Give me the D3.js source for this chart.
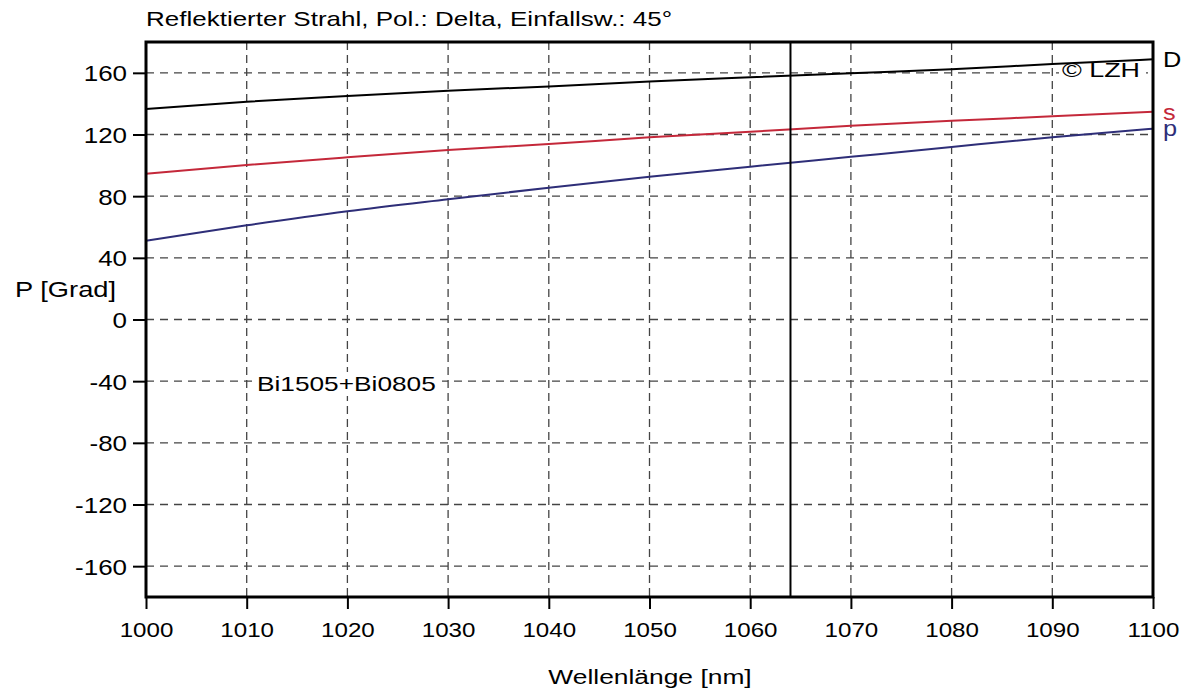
<!DOCTYPE html>
<html>
<head>
<meta charset="utf-8">
<script src="https://cdn.jsdelivr.net/npm/d3@7/dist/d3.min.js"></script>
<style>
  html, body { margin: 0; padding: 0; background: #fff; }
  svg { display: block; font-family: "Liberation Sans", Arial, sans-serif; }
</style>
</head>
<body>
<script>
// wavelength grid [nm] and phase curves [Grad]
var wavelengths = [1000, 1010, 1020, 1030, 1040, 1050, 1060, 1070, 1080, 1090, 1100];
var phaseD = [136.5, 141.3, 145.0, 148.4, 151.2, 154.3, 157.1, 159.8, 162.3, 165.7, 168.8];
var phaseS = [94.6, 100.2, 105.2, 109.9, 113.8, 118.2, 121.8, 125.6, 128.9, 131.8, 134.8];
var phaseP = [51.1, 61.1, 70.2, 78.0, 85.5, 92.6, 99.1, 105.5, 111.9, 118.2, 123.8];

var xTicks = [1000, 1010, 1020, 1030, 1040, 1050, 1060, 1070, 1080, 1090, 1100];
var yTicks = [-160, -120, -80, -40, 0, 40, 80, 120, 160];
var laserLine = 1064;

var W = 1187, H = 688;
var plotL = 146, plotR = 1153, plotT = 42, plotB = 597;

var x = d3.scaleLinear().domain([1000, 1100]).range([plotL, plotR]);
var y = d3.scaleLinear().domain([-180, 180]).range([plotB, plotT]);

var svg = d3.select('body').append('svg')
  .attr('width', W)
  .attr('height', H);

// stretched text helper: places text at (tx, ty) and widens glyphs by sx
function label(g, str, tx, ty, size, sx, anchor, color) {
  return g.append('text')
    .text(str)
    .attr('transform', 'translate(' + tx + ',' + ty + ') scale(' + sx + ',1)')
    .attr('font-size', size)
    .attr('text-anchor', anchor || 'start')
    .attr('fill', color || '#000');
}

// grid
var grid = svg.append('g');
grid.selectAll('.vgrid')
  .data(xTicks.slice(1, -1))
  .enter().append('line')
    .attr('x1', function(d) { return x(d); })
    .attr('x2', function(d) { return x(d); })
    .attr('y1', plotT)
    .attr('y2', plotB)
    .attr('stroke', '#444')
    .attr('stroke-width', 1.3)
    .attr('stroke-dasharray', '8,5');
grid.selectAll('.hgrid')
  .data(yTicks)
  .enter().append('line')
    .attr('x1', plotL)
    .attr('x2', plotR)
    .attr('y1', function(d) { return y(d); })
    .attr('y2', function(d) { return y(d); })
    .attr('stroke', '#444')
    .attr('stroke-width', 1.3)
    .attr('stroke-dasharray', '8,6');

// white boxes behind the in-plot notes
var notes = svg.append('g');
notes.append('rect').attr('x', 252).attr('y', 372).attr('width', 190).attr('height', 24).attr('fill', '#fff');
notes.append('rect').attr('x', 1059).attr('y', 63).attr('width', 87).attr('height', 17).attr('fill', '#fff');

// curves
var line = d3.line()
  .x(function(d) { return x(d[0]); })
  .y(function(d) { return y(d[1]); })
  .curve(d3.curveMonotoneX);

var series = [
  { name: 'D', values: phaseD, color: '#000000' },
  { name: 's', values: phaseS, color: '#c4283a' },
  { name: 'p', values: phaseP, color: '#2e2e78' }
];

svg.append('g').selectAll('path')
  .data(series)
  .enter().append('path')
    .attr('d', function(s) { return line(d3.zip(wavelengths, s.values)); })
    .attr('fill', 'none')
    .attr('stroke', function(s) { return s.color; })
    .attr('stroke-width', 2);

// 1064 nm marker
svg.append('line')
  .attr('x1', x(laserLine)).attr('x2', x(laserLine))
  .attr('y1', plotT).attr('y2', plotB)
  .attr('stroke', '#000')
  .attr('stroke-width', 2);

// axes
var yAxis = svg.append('g')
  .attr('transform', 'translate(' + plotL + ',0)')
  .call(d3.axisLeft(y).tickValues(yTicks).tickSize(13).tickSizeOuter(0).tickFormat(d3.format('d')));
var xAxis = svg.append('g')
  .attr('transform', 'translate(0,' + plotB + ')')
  .call(d3.axisBottom(x).tickValues(xTicks).tickSize(12).tickSizeOuter(0).tickFormat(d3.format('d')));

[yAxis, xAxis].forEach(function(a) {
  a.select('.domain').remove();
  a.selectAll('.tick line').attr('stroke', '#000').attr('stroke-width', 2);
  a.attr('font-family', null).attr('font-size', null);
});

yAxis.selectAll('.tick text')
  .attr('x', null).attr('dy', null)
  .attr('transform', 'translate(-19,8) scale(1.18,1)')
  .attr('font-size', 22)
  .attr('fill', '#000')
  .text(function(d) { return d < 0 ? '-' + Math.abs(d) : d; });

xAxis.selectAll('.tick text')
  .attr('y', null).attr('dy', null)
  .attr('transform', 'translate(0,40) scale(1.15,1)')
  .attr('font-size', 21)
  .attr('fill', '#000');

// frame
svg.append('rect')
  .attr('x', plotL).attr('y', plotT)
  .attr('width', plotR - plotL).attr('height', plotB - plotT)
  .attr('fill', 'none')
  .attr('stroke', '#000')
  .attr('stroke-width', 3);

// texts
var texts = svg.append('g');
label(texts, 'Reflektierter Strahl, Pol.: Delta, Einfallsw.: 45°', 146, 26, 20, 1.3);
label(texts, 'P [Grad]', 15, 297, 22, 1.24);
label(texts, 'Wellenlänge [nm]', 650, 684, 20, 1.32, 'middle');
label(texts, 'Bi1505+Bi0805', 257, 391, 21, 1.25);
label(texts, '© LZH', 1062, 77, 21, 1.28);

// series names at the right edge
series.forEach(function(s, i) {
  var ty = [67, 120, 136][i];
  label(texts, s.name, 1163, ty, 22, 1.15, 'start', s.color);
});
</script>
</body>
</html>
